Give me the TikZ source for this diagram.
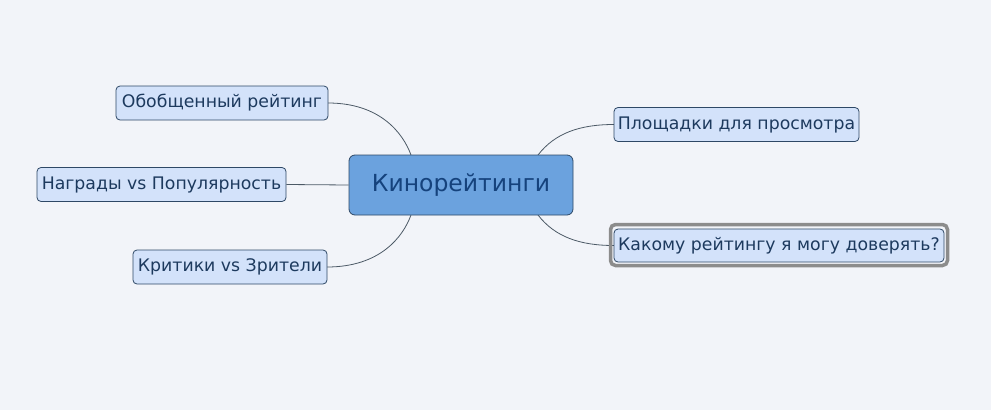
\documentclass[tikz,border=0pt]{standalone}
\usepackage{fontspec}
\setmainfont{DejaVu Sans}
\definecolor{bgcol}{HTML}{F2F4F9}
\definecolor{topicfill}{HTML}{D3E2FA}
\definecolor{topicdraw}{HTML}{2E4866}
\definecolor{topictext}{HTML}{1D3A5E}
\definecolor{mainfill}{HTML}{6BA2DE}
\definecolor{maintext}{HTML}{15427C}
\definecolor{linkcol}{HTML}{4C5966}
\definecolor{selcol}{HTML}{8C8C8C}
\tikzset{topic/.style={draw=topicdraw, fill=topicfill, text=topictext,
   rounded corners=4pt, line width=0.8pt, inner sep=0pt,
   minimum height=34pt, font=\fontsize{17.3}{20}\selectfont},
 maintopic/.style={draw=topicdraw, fill=mainfill, text=maintext,
   rounded corners=6pt, line width=0.8pt, inner sep=0pt,
   minimum width=224pt, minimum height=60pt, font=\fontsize{23.5}{28}\selectfont},
 link/.style={draw=linkcol, line width=0.8pt},
 }

\begin{document}
\begin{tikzpicture}[x=1pt, y=-1pt]
    \useasboundingbox[fill=bgcol] (0,0) rectangle (991,410);
    % connectors first, nodes on top
    \coordinate (kl) at (411,155);
    \coordinate (kr) at (538,155);
    \coordinate (kbl) at (411,215);
    \coordinate (kbr) at (538,215);
    \coordinate (ow) at (328,103);
    \coordinate (cw) at (327,267);
    \coordinate (sw) at (614,124.5);
    \coordinate (tw) at (614,245.5);
    \draw[link] (ow) .. controls (380,103) and (403,133) .. (kl);
    \draw[link] (cw) .. controls (380,267) and (403,237) .. (kbl);
    \draw[link] (kr) .. controls (555,133) and (580,124.5) .. (sw);
    \draw[link] (kbr) .. controls (555,237) and (580,245.5) .. (tw);
    % main topic
    \node[maintopic] (kino) at (461,185) {Кинорейтинги};
    % left side
    \node[topic, minimum width=212pt] (overall) at (222,103) {Обобщенный рейтинг};
    \node[topic, minimum width=249pt] (awards) at (161.5,184.5) {Награды vs Популярность};
    \node[topic, minimum width=194pt] (critics) at (230,267) {Критики vs Зрители};
    \draw[link] (awards.east) -- (kino.west);
    % right side
    \node[topic, minimum width=245pt] (sites) at (736.5,124.5) {Площадки для просмотра};
    \draw[selcol, line width=3.5pt, rounded corners=5pt] (610.5,224.5) rectangle (947.5,265.5);
    \node[topic, minimum width=330pt, minimum height=33pt] (trust) at (779,245.5) {Какому рейтингу я могу доверять?};
\end{tikzpicture}
\end{document}
